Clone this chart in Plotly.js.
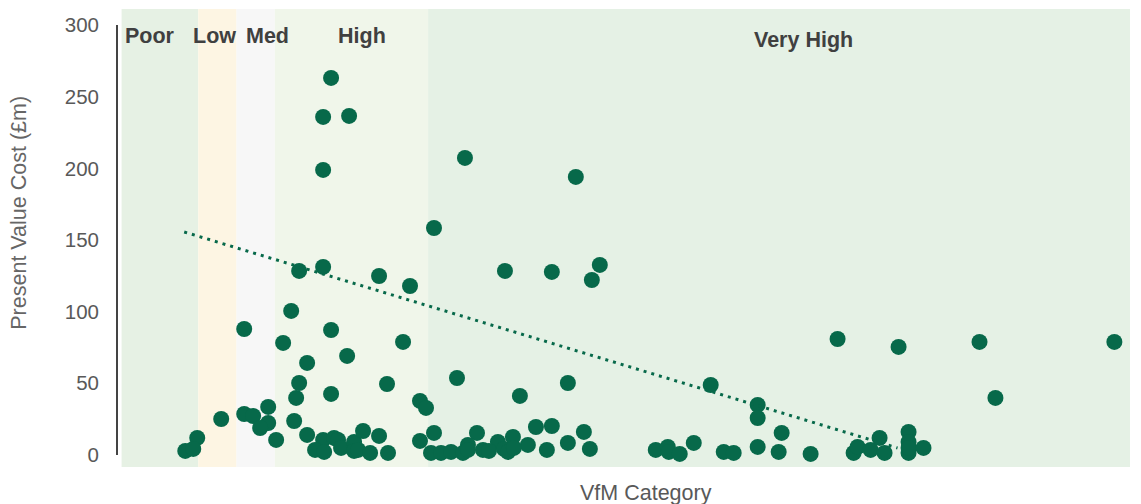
<!DOCTYPE html>
<html>
<head>
<meta charset="utf-8">
<script src="https://cdn.plot.ly/plotly-3.0.1.min.js"></script>
<style>html,body{margin:0;padding:0;background:#fff;}#chart{width:1141px;height:504px;}</style>
</head>
<body>
<div id="chart"></div>
<script>
// VfM categories (benefit-cost ratio bands)
const categories = ["Poor", "Low", "Med", "High", "Very High"];
const bandStart = [0, 1, 1.5, 2, 4];
const bandEnd = [1, 1.5, 2, 4, 13.16];
const bandColors = ["#E6F1E4", "#FDF5E3", "#F7F7F7", "#F0F6EA", "#E5F1E5"];

// Projects: benefit-cost ratio (x) and present value cost £m (y)
const bcr = [
  2.734, 2.630, 2.969, 2.630, 4.077, 4.481, 5.928, 2.317, 2.630, 3.360,
  3.764, 2.213, 1.600, 2.734, 2.108, 3.673, 2.943, 2.421, 2.317, 3.464,
  2.278, 2.734, 3.894, 3.973, 1.300, 1.600, 1.717, 1.913, 1.913, 1.808,
  2.252, 2.017, 0.987, 0.831, 0.935, 2.421, 2.630, 2.773, 2.825, 2.525,
  2.643, 2.864, 3.034, 3.151, 3.034, 3.086, 3.243, 3.360, 3.477, 3.894,
  4.077, 4.038, 5.003, 5.615, 6.241, 6.137, 4.377, 5.824, 5.198, 7.688,
  8.301, 8.301, 8.614, 8.575, 8.301, 7.467, 4.638, 5.407, 5.615, 6.033,
  5.107, 4.911, 5.824, 5.302, 4.520, 4.168, 4.299, 4.455, 4.520, 4.716,
  4.794, 4.990, 5.042, 5.120, 5.550, 6.111, 6.971, 7.128, 7.141, 7.284,
  7.858, 7.988, 9.344, 10.140, 11.196, 12.956, 11.404, 8.992, 9.553, 9.605,
  9.775, 9.892, 9.957, 10.270, 10.270, 10.270, 10.270, 10.465
];
const pvCost = [
  263.1, 235.9, 236.6, 198.9, 158.4, 207.3, 194.0, 128.4, 131.2, 124.9,
  117.9, 100.5, 87.9, 87.2, 78.2, 78.9, 69.1, 64.2, 50.2, 49.5,
  39.8, 42.6, 37.7, 32.8, 25.1, 28.6, 27.2, 33.5, 22.3, 18.8,
  23.7, 10.5, 11.9, 2.8, 4.2, 14.0, 10.5, 11.9, 10.5, 3.5,
  2.1, 4.9, 9.1, 16.7, 2.8, 3.5, 1.4, 13.3, 1.4, 9.8,
  15.4, 1.4, 128.4, 127.7, 132.6, 122.1, 53.7, 50.2, 41.2, 48.8,
  34.9, 25.8, 15.4, 2.1, 5.6, 8.4, 15.4, 19.5, 20.2, 16.1,
  12.6, 9.1, 8.4, 7.0, 7.0, 1.4, 2.1, 1.4, 3.5, 3.5,
  2.8, 4.2, 2.1, 4.9, 3.5, 4.2, 3.5, 5.6, 2.1, 0.7,
  2.1, 1.4, 80.9, 75.4, 78.9, 78.9, 39.8, 0.7, 1.4, 5.6,
  3.5, 11.9, 1.4, 16.1, 9.1, 1.4, 4.9, 4.9
];

// Linear trend line end points
const trendX = [0.817, 10.126];
const trendY = [155.6, 4.9];

// Y tick labels
const yTicks = [0, 50, 100, 150, 200, 250, 300];

const labelX = [0.374, 1.21, 1.91, 3.14, 8.90];
const labelY = [292.7, 292.7, 292.7, 292.7, 289.3];

const green = "#07694A";
const font = "Liberation Sans, Arial, sans-serif";

const shapes = categories.map((c, i) => ({
  type: "rect", layer: "below", xref: "x", yref: "paper",
  x0: bandStart[i], x1: bandEnd[i], y0: 0, y1: 1,
  fillcolor: bandColors[i], line: {width: 0}
}));
shapes.push({
  type: "line", xref: "paper", yref: "y", x0: 0, x1: 0, y0: 0, y1: 300,
  line: {color: "#444444", width: 2}
});

const annotations = categories.map((c, i) => ({
  text: "<b>" + c + "</b>", x: labelX[i], y: labelY[i], xref: "x", yref: "y",
  showarrow: false, font: {family: font, size: 21.5, color: "#404040"},
  xanchor: "center", yanchor: "middle"
}));
annotations.push({
  text: "VfM Category", xref: "paper", yref: "paper", x: 0.522, y: -0.027,
  xanchor: "center", yanchor: "top", showarrow: false,
  font: {family: font, size: 21.5, color: "#595959"}
});
annotations.push({
  text: "Present Value Cost (£m)", xref: "paper", yref: "y", x: -0.0968, y: 169,
  textangle: -90, xanchor: "center", yanchor: "middle", showarrow: false,
  font: {family: font, size: 21.5, color: "#666666"}
});

const data = [
  {
    type: "scatter", mode: "markers", x: bcr, y: pvCost,
    marker: {size: 16, color: green, line: {width: 0}},
    hoverinfo: "x+y", showlegend: false
  },
  {
    type: "scatter", mode: "lines", x: trendX, y: trendY,
    line: {color: green, width: 3, dash: "3px,5px"},
    hoverinfo: "skip", showlegend: false
  }
];

const layout = {
  width: 1141, height: 504,
  margin: {l: 117, r: 11, t: 9, b: 37},
  paper_bgcolor: "#ffffff", plot_bgcolor: "rgba(0,0,0,0)",
  font: {family: font, color: "#595959"},
  showlegend: false,
  xaxis: {
    range: [-0.06, 13.16], showgrid: false, zeroline: false,
    showticklabels: false, ticks: "", showline: false, fixedrange: true
  },
  yaxis: {
    range: [-8.4, 311.2], showgrid: false, zeroline: false, showline: false,
    tickvals: yTicks, ticktext: yTicks.map(String), ticks: "",
    ticklabelstandoff: 17,
    tickfont: {family: font, size: 20.5, color: "#595959"},
    automargin: false, fixedrange: true
  },
  shapes: shapes,
  annotations: annotations
};

Plotly.newPlot("chart", data, layout, {displayModeBar: false, staticPlot: true});
</script>
</body>
</html>
